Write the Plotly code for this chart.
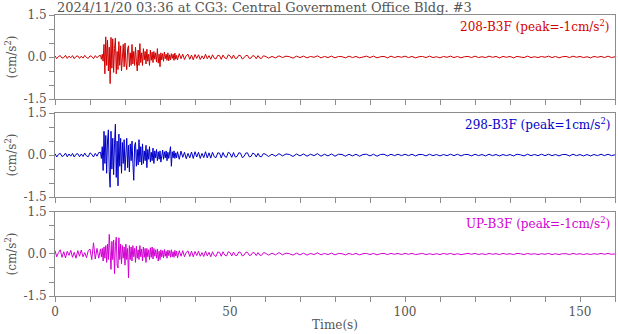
import numpy as np
import plotly.graph_objects as go

# ---- data (cm/s^2) ----
# sample times: 0-12.5 s every 0.5 s, 13-34.75 s every 0.25 s,
# 35-59.5 s every 0.5 s, 60-160 s every 1 s
t_a = np.arange(0, 13, 0.5)
t_b = np.arange(13, 35, 0.25)
t_c = np.arange(35, 60, 0.5)
t_d = np.arange(60, 161, 1.0)

ch208_a = [0.04,-0.06,0.02,0.05,-0.04,-0.02,0.06,-0.05,0.03,-0.03,0.05,-0.06,0.02,0.04,-0.05,0.03,-0.04,0.06,-0.02,-0.05,0.04,0.02,-0.06,0.05,-0.03,0.04]
ch208_b = [0.06,-0.08,0.1,-0.15, 0.45,-0.6,0.72,-0.3, 0.6,-0.5,0.35,-0.95, 0.7,-0.4,0.65,-0.55,
    0.3,0.68,-0.6,0.2, -0.45,0.55,-0.3,0.4, -0.5,0.25,0.45,-0.35, 0.5,-0.2,-0.45,0.3,
    0.4,-0.35,0.15,-0.3, 0.45,-0.25,0.2,-0.3, 0.35,-0.15,-0.5,0.25, -0.3,0.48,-0.2,0.15,
    -0.3,0.3,-0.1,0.2, -0.25,0.28,-0.15,0.1, -0.3,0.25,-0.12,0.18, -0.2,0.2,-0.08,0.15,
    -0.18,0.3,-0.22,0.1, -0.35,0.15,-0.1,0.12, -0.15,0.18,-0.06,0.1, -0.12,0.15,-0.14,0.08,
    -0.1,0.12,-0.05,0.1, -0.12,0.14,-0.08,0.06]
ch208_c = [-0.1,0.12,-0.06,0.1,-0.09,0.05,0.1,-0.08,0.07,-0.1,
    0.09,-0.05,0.08,-0.09,0.04,-0.07,0.1,-0.06,0.05,-0.08,
    0.08,-0.04,-0.07,0.06,0.05,-0.08,0.07,-0.03,-0.06,0.08,
    0.04,-0.06,0.07,-0.05,-0.04,0.06,0.05,-0.07,-0.03,0.05,
    0.06,-0.05,-0.04,0.05,0.03,-0.06,0.05,-0.04,-0.05,0.04]
ch208_d = [0.03,-0.04,0.02,-0.03,0.04,-0.02,0.03,0.01,-0.04,0.03,
    -0.02,0.03,-0.03,0.02,-0.01,0.04,-0.03,0.02,-0.02,0.03,
    -0.03,0.02,0.01,-0.03,0.03,-0.02,0.02,-0.03,0.01,0.03,
    -0.02,0.03,-0.03,0.01,0.02,-0.03,0.03,-0.02,0.02,-0.01,
    0.03,-0.02,0.02,-0.03,0.01,0.02,-0.02,0.03,-0.02,0.01,
    -0.03,0.02,-0.01,0.03,-0.02,0.02,-0.03,0.01,0.02,-0.02,
    0.03,-0.02,0.01,-0.02,0.03,-0.01,0.02,-0.03,0.02,-0.01,
    0.02,-0.03,0.02,0.01,-0.02,0.03,-0.02,0.01,-0.02,0.02,
    -0.01,0.03,-0.02,0.02,-0.03,0.01,0.02,-0.02,0.03,-0.01,
    0.02,-0.02,0.01,-0.03,0.02,-0.01,0.02,-0.02,0.03,-0.02,
    0.01]

ch298_a = [0.05,-0.07,0.03,0.06,-0.05,-0.02,0.07,-0.06,0.04,-0.04,0.06,-0.07,0.03,0.05,-0.06,0.04,-0.05,0.07,-0.03,-0.06,0.08,0.03,-0.07,0.06,-0.04,0.09]
ch298_b = [0.1,-0.12,0.3,-0.55, 0.85,-0.3,0.7,-0.65, 0.5,0.9,-0.6,-1.15, 0.85,-0.5,0.6,-0.7,
    0.4,1.1,-0.8,0.5, -1.1,0.75,-0.4,0.6, -0.65,0.45,-0.3,0.55, -0.55,0.3,0.6,-0.45,
    0.35,-0.6,0.4,-0.2, 0.5,-0.3,-0.9,0.35, 0.45,-0.4,0.2,-0.35, 0.55,-0.25,0.3,-0.35,
    0.4,-0.3,0.15,-0.2, 0.35,-0.45,0.2,-0.15, 0.3,-0.25,0.1,-0.2, 0.25,-0.3,0.15,-0.1,
    0.2,-0.2,0.12,-0.15, 0.15,-0.25,0.08,0.18, -0.15,0.12,-0.1,0.15, -0.2,0.1,-0.12,0.14,
    0.3,-0.4,0.12,-0.1, 0.15,-0.12,0.08,-0.1]
ch298_c = [0.12,-0.15,0.14,-0.08,0.1,-0.13,0.06,-0.1,0.11,-0.12,
    0.12,-0.07,0.1,-0.12,0.06,-0.09,0.12,-0.1,0.08,-0.11,
    0.1,-0.06,-0.09,0.08,0.07,-0.1,0.09,-0.05,-0.08,0.1,
    0.06,-0.08,0.09,-0.07,-0.05,0.08,0.07,-0.09,-0.05,0.07,
    0.08,-0.06,-0.05,0.07,0.04,-0.07,0.06,-0.05,-0.06,0.05]
ch298_d = [0.04,-0.05,0.03,-0.04,0.05,-0.03,0.04,0.02,-0.05,0.04,
    -0.03,0.04,-0.04,0.03,-0.02,0.05,-0.04,0.03,-0.03,0.04,
    -0.04,0.03,0.02,-0.04,0.03,-0.03,0.03,-0.04,0.02,0.03,
    -0.03,0.03,-0.04,0.02,0.03,-0.03,0.03,-0.02,0.03,-0.02,
    0.03,-0.02,0.03,-0.03,0.02,0.02,-0.03,0.03,-0.02,0.02,
    -0.03,0.02,-0.02,0.03,-0.02,0.03,-0.03,0.02,0.02,-0.03,
    0.03,-0.02,0.02,-0.03,0.03,-0.02,0.02,-0.03,0.02,-0.02,
    0.02,-0.03,0.03,0.01,-0.03,0.03,-0.02,0.02,-0.02,0.03,
    -0.02,0.03,-0.02,0.02,-0.03,0.02,0.02,-0.03,0.03,-0.02,
    0.02,-0.03,0.02,-0.03,0.02,-0.02,0.03,-0.02,0.03,-0.02,
    0.01]

chUP_a = [0.12,-0.1,0.05,0.15,-0.12,0.08,-0.14,0.1,-0.05,0.13,-0.12,0.06,-0.15,0.12,-0.08,0.14,-0.1,0.05,-0.13,0.12,0.18,-0.2,0.4,-0.18,0.2,-0.15]
chUP_b = [0.18,-0.1,0.2,-0.25, 0.25,-0.15,0.3,-0.3, 0.35,-0.2,0.7,-0.3, -0.55,0.45,-0.2,0.5,
    -0.7,0.3,0.6,-0.4, -0.5,0.58,-0.2,0.35, -0.35,0.3,-0.15,0.25, -0.4,0.35,-0.2,0.2,
    -0.85,0.3,-0.2,0.25, -0.25,0.3,-0.1,0.2, -0.3,0.28,-0.15,0.15, -0.2,0.3,-0.1,0.18,
    -0.25,0.25,-0.12,0.2, -0.3,0.2,-0.1,0.15, -0.2,0.22,-0.12,0.25, -0.18,0.2,-0.08,0.15,
    -0.15,0.18,-0.25,0.1, -0.2,0.15,-0.1,0.12, -0.14,0.16,-0.08,0.1, -0.15,0.14,-0.06,0.12,
    -0.12,0.15,-0.1,0.08, -0.12,0.13,-0.07,0.1]
chUP_c = [-0.14,0.12,-0.08,0.12,-0.1,0.06,0.11,-0.09,0.1,-0.1,
    0.09,-0.06,0.1,-0.08,0.05,-0.09,0.1,-0.07,0.06,-0.1,
    0.08,-0.05,-0.09,0.07,0.06,-0.08,0.08,-0.04,-0.07,0.08,
    0.05,-0.07,0.07,-0.05,-0.05,0.07,0.06,-0.07,-0.04,0.06,
    0.06,-0.05,-0.04,0.05,0.04,-0.06,0.05,-0.04,-0.05,0.04]
chUP_d = [0.04,-0.04,0.03,-0.03,0.05,-0.03,0.03,0.01,-0.04,0.03,
    -0.03,0.03,-0.04,0.02,-0.02,0.04,-0.03,0.02,-0.02,0.03,
    -0.03,0.02,0.01,-0.03,0.02,-0.02,0.02,-0.03,0.01,0.02,
    -0.02,0.02,-0.03,0.01,0.02,-0.02,0.02,-0.01,0.02,-0.02,
    0.02,-0.01,0.02,-0.02,0.01,0.02,-0.02,0.01,-0.02,0.01,
    -0.02,0.02,-0.01,0.02,-0.02,0.01,-0.02,0.01,0.02,-0.01,
    0.02,-0.02,0.01,-0.02,0.02,-0.01,0.01,-0.02,0.02,-0.01,
    0.01,-0.02,0.02,0.01,-0.02,0.02,-0.01,0.01,-0.02,0.01,
    -0.01,0.02,-0.02,0.01,-0.02,0.01,0.01,-0.02,0.02,-0.01,
    0.01,-0.02,0.01,-0.02,0.01,-0.01,0.02,-0.01,0.02,-0.01,
    0.0]

channels = ["208-B3F", "298-B3F", "UP-B3F"]
peaks = ["-1", "1", "-1"]
colors = ["#d20000", "#0000c8", "#d200d2"]
series = [ch208_a + ch208_b + ch208_c + ch208_d,
          ch298_a + ch298_b + ch298_c + ch298_d,
          chUP_a + chUP_b + chUP_c + chUP_d]
time = np.concatenate([t_a, t_b, t_c, t_d])
for s in series:
    assert len(s) == len(time), (len(s), len(time))

title_text = "2024/11/20 03:36 at CG3: Central Government Office Bldg. #3"
y_tickvals = [-1.5, 0.0, 1.5]
y_ticktext = ["-1.5", "0.0", "1.5"]
x_tickvals = [0, 50, 100, 150]
x_ticktext = ["0", "50", "100", "150"]

FONT = "DejaVu Serif"
FS = 12
GRAY = "#555555"
AX = "#8c8c8c"

domains = [[0.701, 1.0], [0.352, 0.651], [0.0, 0.299]]

fig = go.Figure()
layout = dict(
    width=618, height=334,
    margin=dict(l=55, r=3, t=15, b=38),
    paper_bgcolor="white", plot_bgcolor="white",
    showlegend=False,
    font=dict(family=FONT, size=FS, color=GRAY),
)
annotations = []
for i in range(3):
    n = "" if i == 0 else str(i + 1)
    fig.add_trace(go.Scatter(x=time, y=series[i], mode="lines",
                             line=dict(color=colors[i], width=1),
                             xaxis="x" + n, yaxis="y" + n, hoverinfo="skip"))
    layout["xaxis" + n] = dict(
        domain=[0, 1], range=[0, 160], anchor="y" + n,
        tickvals=x_tickvals, ticktext=x_ticktext, showticklabels=(i == 2),
        ticks="outside", ticklen=5, tickcolor=AX, showline=True, mirror=True,
        minor=dict(dtick=10, tick0=0, ticks="outside", ticklen=5, tickcolor=AX, showgrid=False),
        linecolor=AX, linewidth=1, showgrid=False, zeroline=False,
        tickfont=dict(family=FONT, size=FS, color=GRAY),
        title=dict(text="Time(s)", font=dict(family=FONT, size=FS, color=GRAY), standoff=2) if i == 2 else None,
    )
    layout["yaxis" + n] = dict(
        domain=domains[i], range=[-1.5, 1.5], anchor="x" + n,
        tickvals=y_tickvals, ticktext=y_ticktext,
        ticks="outside", ticklen=5, tickcolor=AX, showline=True, mirror=True,
        minor=dict(dtick=0.5, tick0=0, ticks="outside", ticklen=5, tickcolor=AX, showgrid=False),
        linecolor=AX, linewidth=1, showgrid=False, zeroline=False,
        tickfont=dict(family=FONT, size=FS, color=GRAY),
        title=dict(text="(cm/s<sup>2</sup>)", font=dict(family=FONT, size=FS, color=GRAY), standoff=4),
    )
    annotations.append(dict(
        text=f"{channels[i]} (peak={peaks[i]}cm/s<sup>2</sup>)",
        xref="x" + n + " domain", yref="y" + n + " domain",
        x=0.995, y=0.99, xanchor="right", yanchor="top", showarrow=False,
        font=dict(family=FONT, size=FS, color=colors[i]),
    ))
annotations.append(dict(
    text=title_text, xref="paper", yref="paper", x=0.0, y=1.0,
    xanchor="left", yanchor="bottom", yshift=-2, showarrow=False,
    font=dict(family=FONT, size=13, color=GRAY),
))
layout["annotations"] = annotations
fig.update_layout(**layout)
fig.write_html("out.html")
